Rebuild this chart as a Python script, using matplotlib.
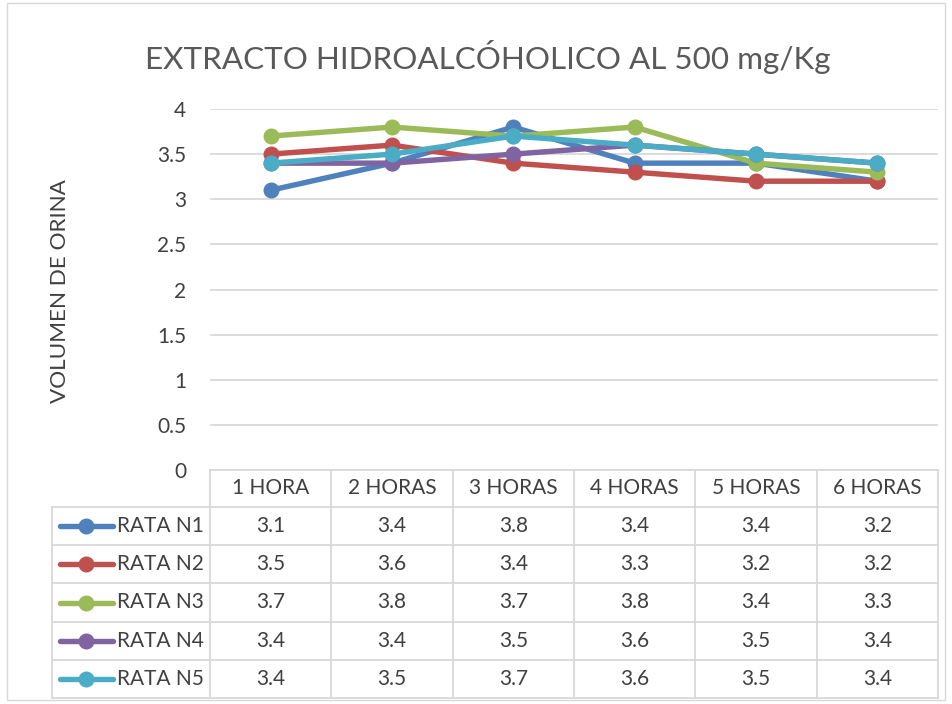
import matplotlib
matplotlib.use("Agg")
import matplotlib.pyplot as plt
from matplotlib.lines import Line2D
from matplotlib.patches import Rectangle

categories = ["1 HORA", "2 HORAS", "3 HORAS", "4 HORAS", "5 HORAS", "6 HORAS"]
series_names = ["RATA N1", "RATA N2", "RATA N3", "RATA N4", "RATA N5"]
rata_n1 = [3.1, 3.4, 3.8, 3.4, 3.4, 3.2]
rata_n2 = [3.5, 3.6, 3.4, 3.3, 3.2, 3.2]
rata_n3 = [3.7, 3.8, 3.7, 3.8, 3.4, 3.3]
rata_n4 = [3.4, 3.4, 3.5, 3.6, 3.5, 3.4]
rata_n5 = [3.4, 3.5, 3.7, 3.6, 3.5, 3.4]
series_values = [rata_n1, rata_n2, rata_n3, rata_n4, rata_n5]
colors = ["#4F81BD", "#C0504D", "#9BBB59", "#8064A2", "#4BACC6"]
yticks = [0, 0.5, 1, 1.5, 2, 2.5, 3, 3.5, 4]
title = "EXTRACTO HIDROALCÓHOLICO AL 500 mg/Kg"
ylabel = "VOLUMEN DE ORINA"

W, H = 953, 704
FONT = ["Lato", "DejaVu Sans"]
TXT = "#404040"
TTL = "#595959"
GRID = "#D9D9D9"

fig = plt.figure(figsize=(W / 100, H / 100), dpi=100)

def fx(px):
    return px / W

def fy(py):
    return 1 - py / H

# Outer chart border
fig.add_artist(Rectangle((fx(7), fy(700)), fx(945) - fx(7), fy(3) - fy(700),
                         transform=fig.transFigure, fill=False, edgecolor=GRID, lw=1))

left, right, top, bottom = 210, 938, 109, 470
ax = fig.add_axes([fx(left), fy(bottom), fx(right) - fx(left), fy(top) - fy(bottom)])
ax.set_xlim(-0.5, len(categories) - 0.5)
ax.set_ylim(0, 4)
ax.set_yticks(yticks)
ax.set_yticklabels([f"{t:g}" for t in yticks], fontsize=15, color=TXT, family=FONT)
ax.set_xticks([])
ax.tick_params(axis="y", length=0, pad=17)
for s in ax.spines.values():
    s.set_visible(False)
ax.grid(axis="y", color=GRID, lw=1.3)
ax.set_axisbelow(True)

x = list(range(len(categories)))
for name, vals, c in zip(series_names, series_values, colors):
    ax.plot(x, vals, color=c, lw=3.9, marker="o", markersize=10.5,
            solid_capstyle="round", solid_joinstyle="round", zorder=3)

fig.text(fx(488), fy(57), title, ha="center", va="center", fontsize=22.6,
         color=TTL, family=FONT)
fig.text(fx(60), fy(291), ylabel, ha="center", va="center", rotation=90,
         fontsize=16.2, color=TXT, family=FONT)

# Data table
col_w = (right - left) / len(categories)
row_tops = [470, 507, 545, 583, 622, 660, 698]
leg_left = 52

def hline(y, x0, x1):
    fig.add_artist(Line2D([fx(x0), fx(x1)], [fy(y), fy(y)], transform=fig.transFigure,
                          color=GRID, lw=1.3))

def vline(xp, y0, y1):
    fig.add_artist(Line2D([fx(xp), fx(xp)], [fy(y0), fy(y1)], transform=fig.transFigure,
                          color=GRID, lw=1.3))

hline(row_tops[0], left, right)
for y in row_tops[1:]:
    hline(y, leg_left, right)
for i in range(len(categories) + 1):
    vline(left + i * col_w, row_tops[0], row_tops[-1])
vline(leg_left, row_tops[1], row_tops[-1])

for i, cat in enumerate(categories):
    fig.text(fx(left + (i + 0.5) * col_w), fy((row_tops[0] + row_tops[1]) / 2), cat,
             ha="center", va="center", fontsize=15, color=TXT, family=FONT)

for r, (name, vals, c) in enumerate(zip(series_names, series_values, colors)):
    yc = (row_tops[r + 1] + row_tops[r + 2]) / 2
    fig.add_artist(Line2D([fx(60), fx(113)], [fy(yc), fy(yc)], transform=fig.transFigure,
                          color=c, lw=3.9, solid_capstyle="round"))
    fig.add_artist(Line2D([fx(86)], [fy(yc)], transform=fig.transFigure, color=c,
                          marker="o", markersize=10.5, lw=0))
    fig.text(fx(117), fy(yc), name, ha="left", va="center", fontsize=15,
             color=TXT, family=FONT)
    for i, v in enumerate(vals):
        fig.text(fx(left + (i + 0.5) * col_w), fy(yc), f"{v:g}", ha="center",
                 va="center", fontsize=15, color=TXT, family=FONT)

fig.savefig("out.png", dpi=100)
